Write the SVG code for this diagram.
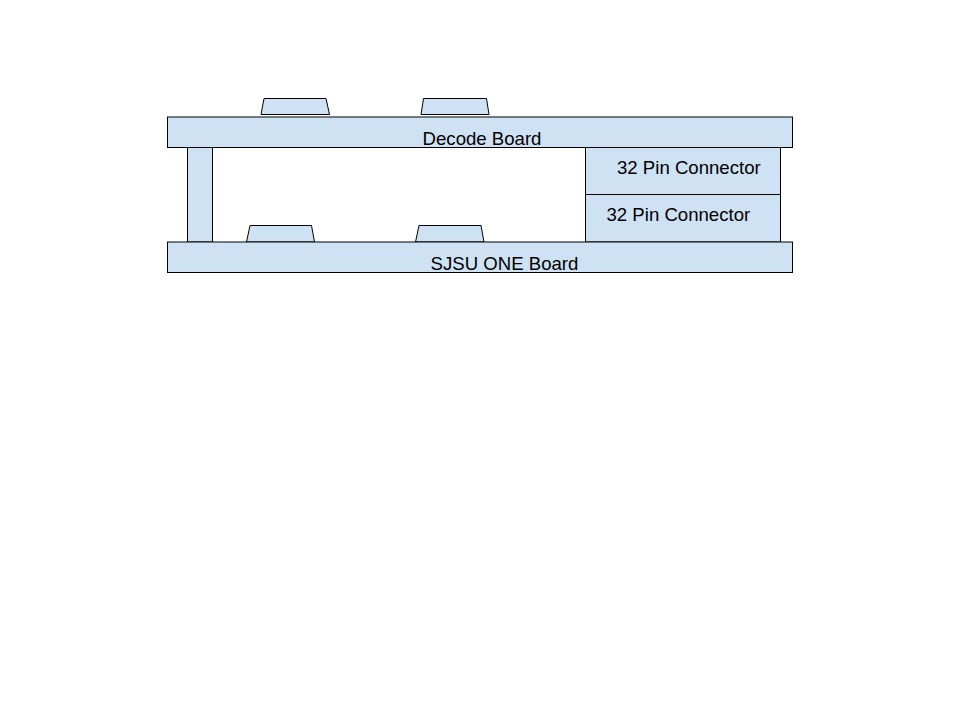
<svg xmlns="http://www.w3.org/2000/svg" width="960" height="720" viewBox="0 0 960 720">
<style>
.s{fill:#cfe2f3;stroke:#000;stroke-width:1}
.t{font-family:"Liberation Sans",Arial,sans-serif;font-size:18.6px;fill:#000}
</style>
<rect width="960" height="720" fill="#fff"/>
<g id="chip-top-1"><polygon class="s" points="264,98.5 326,98.5 329.5,114.5 261,114.5"/></g>
<g id="chip-top-2"><polygon class="s" points="423.5,98.5 486.5,98.5 489,114.5 421,114.5"/></g>
<g id="decode-board"><rect class="s" x="167.5" y="117" width="625" height="30.5"/><text class="t" x="482" y="145" text-anchor="middle">Decode Board</text></g>
<g id="post"><rect class="s" x="187.5" y="147.5" width="25" height="94.5"/></g>
<g id="connector-top"><rect class="s" x="585.5" y="147.5" width="195" height="47"/><text class="t" x="617" y="173.5">32 Pin Connector</text></g>
<g id="connector-bottom"><rect class="s" x="585.5" y="194.5" width="195" height="47.5"/><text class="t" x="606.5" y="220.5">32 Pin Connector</text></g>
<g id="chip-bottom-1"><polygon class="s" points="250,225.5 311.5,225.5 314.5,242 246.5,242"/></g>
<g id="chip-bottom-2"><polygon class="s" points="419,225.5 481,225.5 484,242 415.5,242"/></g>
<g id="sjsu-board"><rect class="s" x="167.5" y="242" width="625" height="30.5"/><text class="t" x="504.5" y="270" text-anchor="middle">SJSU ONE Board</text></g>
<g id="connectors"></g>
</svg>
